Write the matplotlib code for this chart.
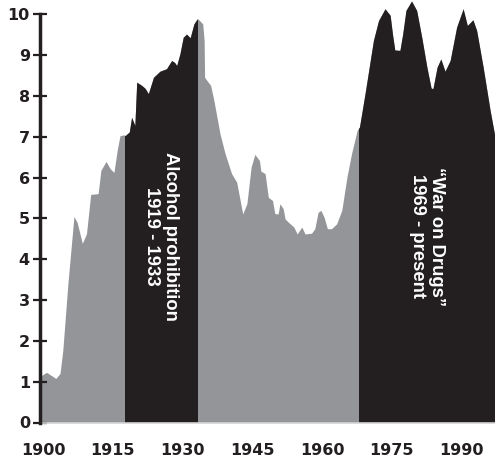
import numpy as np
import matplotlib
matplotlib.use("Agg")
import matplotlib.pyplot as plt
import matplotlib.transforms as mtransforms
from matplotlib.patches import Rectangle

# homicide rate per 100,000
years = [1900.0, 1901.4, 1903.4, 1904.3, 1904.9, 1906.0, 1907.3, 1908.0,
         1909.1, 1910.0, 1910.9, 1912.5, 1913.1, 1914.2, 1915.1, 1915.9,
         1916.6, 1917.2, 1918.1, 1918.3, 1919.2, 1919.7, 1920.4, 1920.8,
         1921.9, 1922.6, 1923.3, 1924.4, 1925.8, 1927.2, 1928.3, 1928.9,
         1929.4, 1930.1, 1930.8, 1931.5, 1932.3, 1933.1, 1933.8, 1934.0,
         1935.0, 1935.3, 1935.4, 1936.7, 1937.4, 1938.7, 1939.8, 1941.2,
         1942.3, 1943.6, 1944.5, 1945.4, 1946.2, 1947.2, 1947.5, 1948.4,
         1949.1, 1950.0, 1950.5, 1951.2, 1951.6, 1952.3, 1952.7, 1953.4,
         1954.6, 1955.3, 1956.3, 1957.0, 1958.4, 1959.1, 1959.8, 1960.4,
         1961.1, 1961.8, 1962.7, 1963.8, 1964.9, 1966.0, 1967.0, 1968.2,
         1968.7, 1969.9, 1971.7, 1972.8, 1974.2, 1975.3, 1975.8, 1976.3,
         1977.4, 1978.0, 1978.7, 1979.9, 1981.0, 1982.1, 1983.2, 1984.1,
         1984.5, 1985.4, 1986.2, 1987.1, 1988.2, 1989.6, 1991.0, 1991.9,
         1993.1, 1993.9, 1995.3, 1996.8, 1997.85]
rate = [1.13, 1.23, 1.08, 1.20, 1.76, 3.40, 5.05, 4.90,
        4.39, 4.63, 5.59, 5.61, 6.18, 6.40, 6.22, 6.13,
        6.67, 7.03, 7.05, 7.03, 7.12, 7.48, 7.28, 8.34,
        8.26, 8.19, 8.06, 8.46, 8.61, 8.67, 8.87, 8.83,
        8.75, 9.04, 9.44, 9.52, 9.43, 9.77, 9.89, 9.89,
        9.77, 9.36, 8.46, 8.26, 7.89, 7.08, 6.59, 6.10,
        5.89, 5.11, 5.37, 6.26, 6.57, 6.42, 6.16, 6.10,
        5.52, 5.44, 5.12, 5.11, 5.36, 5.24, 4.99, 4.91,
        4.79, 4.62, 4.79, 4.62, 4.64, 4.75, 5.15, 5.20,
        5.03, 4.75, 4.75, 4.87, 5.20, 6.01, 6.59, 7.16,
        7.24, 8.06, 9.36, 9.85, 10.14, 9.98, 9.52, 9.13,
        9.12, 9.52, 10.10, 10.33, 10.10, 9.44, 8.71, 8.20,
        8.18, 8.71, 8.91, 8.61, 8.87, 9.69, 10.14, 9.73,
        9.87, 9.61, 8.71, 7.65, 7.00]

prohibition_span = (1918.3, 1933.8)
war_span = (1968.7, 1997.85)
span_labels = ["Alcohol prohibition\n1919 - 1933",
               "\u201cWar on Drugs\u201d\n1969 - present"]

x_ticks = [1900, 1915, 1930, 1945, 1960, 1975, 1990]
y_ticks = list(range(0, 11))

GRAY = "#939598"
BLACK = "#231f20"


def make_figure():
    fig = plt.figure(figsize=(4.95, 4.59), dpi=100)
    ax = fig.add_axes([40 / 495, 36.5 / 459, 455 / 495, 422.5 / 459])

    ax.fill_between(years, rate, 0, color=GRAY, lw=0)
    for (x0, x1), label in zip([prohibition_span, war_span], span_labels):
        dark = ax.fill_between(years, rate, 0, color=BLACK, lw=0)
        clip = Rectangle((x0, 0), x1 - x0, 20, transform=ax.transData)
        dark.set_clip_path(clip)
        ax.text((x0 + x1) / 2, 4.56, label, rotation=270, color="white",
                ha="center", va="center", multialignment="center",
                fontsize=13.3, fontweight="bold", linespacing=1.12,
                family=["Liberation Sans", "DejaVu Sans"])

    ax.set_xlim(1900, 1997.85)
    ax.set_ylim(0, 10.355)
    ax.set_xticks(x_ticks)
    ax.set_yticks(y_ticks)

    for side in ["top", "right"]:
        ax.spines[side].set_visible(False)
    ax.spines["left"].set_bounds(0, 10)
    ax.spines["left"].set_linewidth(2.5)
    ax.spines["left"].set_color(BLACK)
    ax.spines["left"].set_zorder(5)
    ax.spines["bottom"].set_color("#d4d4d4")
    ax.spines["bottom"].set_linewidth(1.2)

    ax.tick_params(axis="y", direction="inout", length=9.5, width=1.6,
                   color=BLACK, pad=2.5, labelsize=11.5)
    ax.tick_params(axis="x", length=0, pad=14.5, labelsize=11.5)
    for lab in ax.get_xticklabels() + ax.get_yticklabels():
        lab.set_fontweight("bold")
        lab.set_color(BLACK)
    shift = mtransforms.ScaledTranslation(3 / 100, 0, fig.dpi_scale_trans)
    for lab in ax.get_xticklabels():
        lab.set_transform(lab.get_transform() + shift)

    fig.savefig("out.png", dpi=100)


if __name__ == "__main__":
    make_figure()
